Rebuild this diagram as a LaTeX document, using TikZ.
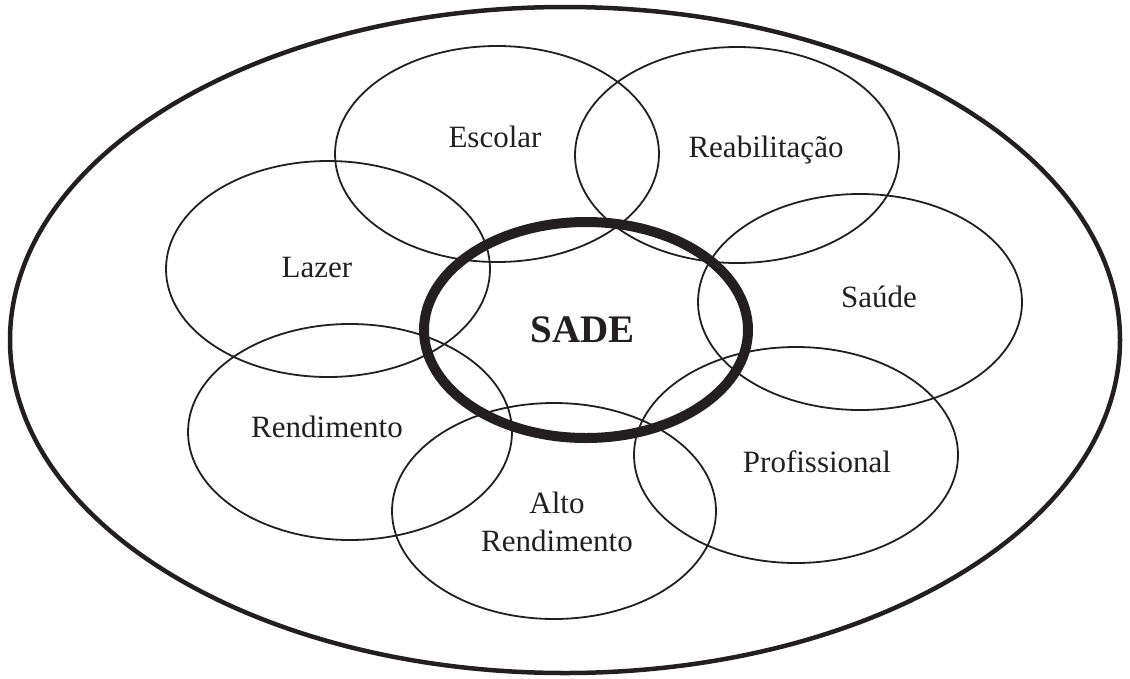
\documentclass[tikz,border=0pt]{standalone}
\usepackage{fontspec}
\setmainfont{Liberation Serif}
\usetikzlibrary{shapes.geometric}
\definecolor{ink}{HTML}{231F20}
\tikzset{
  ring/.style={ellipse, draw=ink, line width=1.8pt, minimum width=324pt, minimum height=216pt, inner sep=0pt, outer sep=0pt},
  lbl/.style={anchor=base, text=ink, inner sep=0pt, font=\fontsize{31}{38}\selectfont},
}
\begin{document}
\begin{tikzpicture}[x=1pt,y=-1pt]
\useasboundingbox (0,0) rectangle (1130,678);
\node[ellipse, draw=ink, line width=4.5pt, minimum width=1110pt, minimum height=666pt, inner sep=0pt] (outer) at (565,340) {};
\node[ring] (escolar) at (497,154) {};
\node[ring] (reab) at (737,155) {};
\node[ring] (lazer) at (328,269) {};
\node[ring] (saude) at (860,302) {};
\node[ring] (rend) at (350,432) {};
\node[ring] (prof) at (796,455) {};
\node[ring] (alto) at (554,511) {};
\node[ring, line width=10pt] (sade) at (586,330) {};
\node[lbl] (tescolar) at (495,147) {Escolar};
\node[lbl] (treab) at (766,157) {Reabilitação};
\node[lbl] (tlazer) at (317,277) {Lazer};
\node[lbl] (tsaude) at (879,307) {Saúde};
\node[lbl] (trend) at (327,437) {Rendimento};
\node[lbl] (tprof) at (817,472) {Profissional};
\node[lbl, align=center] (talto) at (557,551) {Alto\\Rendimento};
\node[lbl, font=\fontsize{39}{46}\selectfont\bfseries] (tsade) at (583,342) {SADE};
\end{tikzpicture}
\end{document}
